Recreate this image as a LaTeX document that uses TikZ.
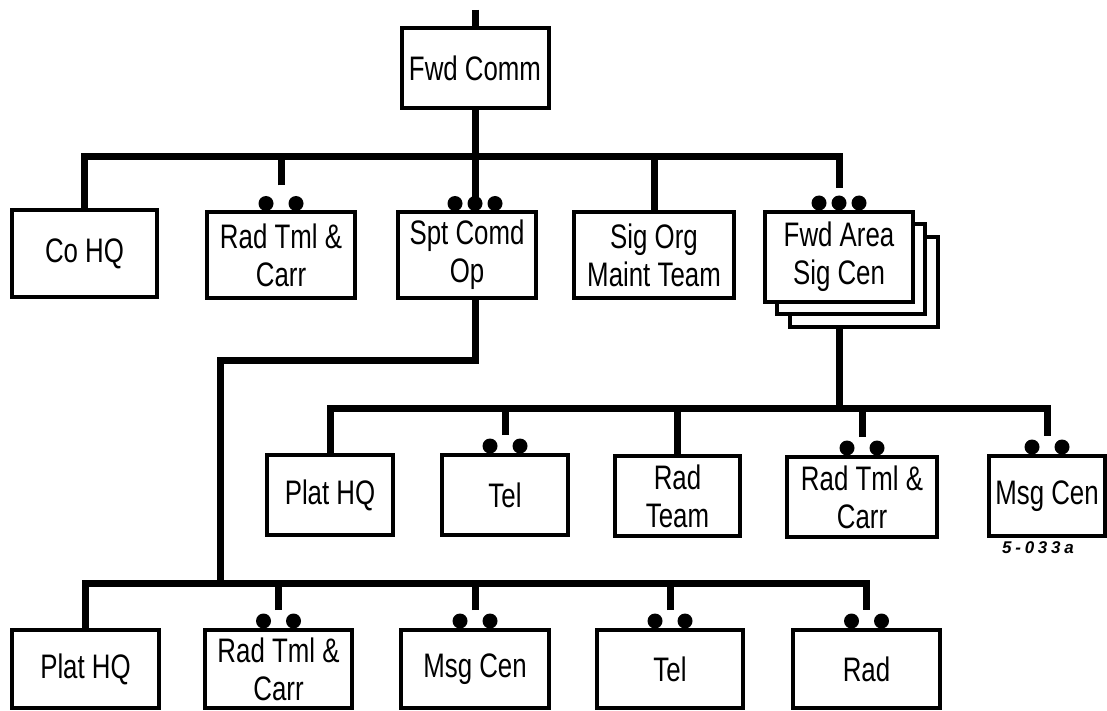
\documentclass[tikz,border=0pt]{standalone}
\usepackage{fontspec}
\setmainfont{Liberation Sans}[FakeStretch=0.76]
\newfontfamily\codefont[LetterSpace=22]{Liberation Sans}

\tikzset{
  unit/.style={draw, line width=4pt, fill=white, inner sep=0pt, align=center,
    font=\fontsize{34pt}{38pt}\selectfont},
  link/.style={line width=7pt},
}

\begin{document}
\begin{tikzpicture}[x=1pt, y=-1pt]
  \useasboundingbox (0,0) rectangle (1107,711);
  % Top feed and the forward communications box
  \coordinate (feed) at (475,10);
  \node[unit, minimum width=147pt, minimum height=80pt] (fwd) at (475,68) {Fwd Comm};
  \draw[link] (feed) -- (fwd.north);

  % First row of units
  \node[unit, minimum width=145pt, minimum height=87pt] (cohq) at (84.5,253.5) {Co HQ};
  \node[unit, minimum width=148pt, minimum height=85pt] (rtc1) at (281,255) {Rad Tml \&\\Carr};
  \node[unit, minimum width=138pt, minimum height=85pt] (spt) at (467,255) {Spt Comd\\Op};
  \node[unit, minimum width=160pt, minimum height=85pt] (sigorg) at (654,255) {Sig Org\\Maint Team};
  % stacked boxes behind Fwd Area Sig Cen
  \node[unit, minimum width=148pt, minimum height=90pt] (fasc3) at (864,282) {};
  \node[unit, minimum width=148pt, minimum height=90pt] (fasc2) at (851,269) {};
  \node[unit, minimum width=148pt, minimum height=90pt] (fasc) at (839,257) {Fwd Area\\Sig Cen};

  % First bus
  \coordinate (sptc) at (spt.north -| fwd.south);
  \coordinate (bus1) at (sptc |- 0,157);
  \draw[link] (fwd.south) -- ([yshift=7pt]sptc);
  \draw[link] (cohq.north) |- (bus1) -| ([yshift=22pt]fasc.north);
  \draw[link] ([yshift=25pt]rtc1.north) -- (rtc1.north |- bus1);
  \draw[link] (sigorg.north) -- (sigorg.north |- bus1);

  % Second row (under Fwd Area Sig Cen)
  \node[unit, minimum width=126pt, minimum height=80pt] (plat1) at (330,495) {Plat HQ};
  \node[unit, minimum width=126pt, minimum height=80pt] (tel1) at (505,495) {Tel};
  \node[unit, minimum width=125pt, minimum height=80pt] (radteam) at (677.5,496) {Rad\\Team};
  \node[unit, minimum width=150pt, minimum height=80pt] (rtc2) at (862,497) {Rad Tml \&\\Carr};
  \node[unit, minimum width=116pt, minimum height=80pt] (msg1) at (1047,496) {Msg Cen};
  \node[font=\codefont\fontsize{17pt}{17pt}\selectfont\bfseries\itshape] (code) at (1038,548) {5-033a};

  \coordinate (bus2) at (fasc.south |- 0,408);
  \draw[link] (fasc.south |- fasc3.south) -- (bus2);
  \draw[link] (plat1.north) |- (bus2) -| ([yshift=18pt]msg1.north);
  \foreach \b in {tel1,rtc2}
    \draw[link] ([yshift=18pt]\b.north) -- (\b.north |- bus2);
  \draw[link] (radteam.north) -- (radteam.north |- bus2);

  % Third row (under Spt Comd Op)
  \node[unit, minimum width=147pt, minimum height=78pt] (plat2) at (85.5,669) {Plat HQ};
  \node[unit, minimum width=147pt, minimum height=78pt] (rtc3) at (278.5,669) {Rad Tml \&\\Carr};
  \node[unit, minimum width=148pt, minimum height=78pt] (msg2) at (475,669) {Msg Cen};
  \node[unit, minimum width=146pt, minimum height=78pt] (tel2) at (670,669) {Tel};
  \node[unit, minimum width=147pt, minimum height=78pt] (rad) at (866.5,669) {Rad};

  \coordinate (jog) at (220,360);
  \coordinate (bus3) at (220,583);
  \draw[link] (spt.south -| sptc) |- (jog) -- (bus3);
  \draw[link] (plat2.north) |- (bus3) -| ([yshift=18pt]rad.north);
  \foreach \b in {rtc3,msg2,tel2}
    \draw[link] ([yshift=18pt]\b.north) -- (\b.north |- bus3);

  % Dots on the box tops
  \foreach \b in {rtc1,tel1,rtc2,msg1,rtc3,msg2,tel2,rad}
    \fill ([xshift=-15pt,yshift=7pt]\b.north) circle (7.5pt)
          ([xshift=15pt,yshift=7pt]\b.north) circle (7.5pt);
  \foreach \b in {sptc,fasc.north}
    \foreach \d in {-20,0,20}
      \fill ([xshift=\d pt,yshift=7pt]\b) circle (7.5pt);
\end{tikzpicture}
\end{document}
